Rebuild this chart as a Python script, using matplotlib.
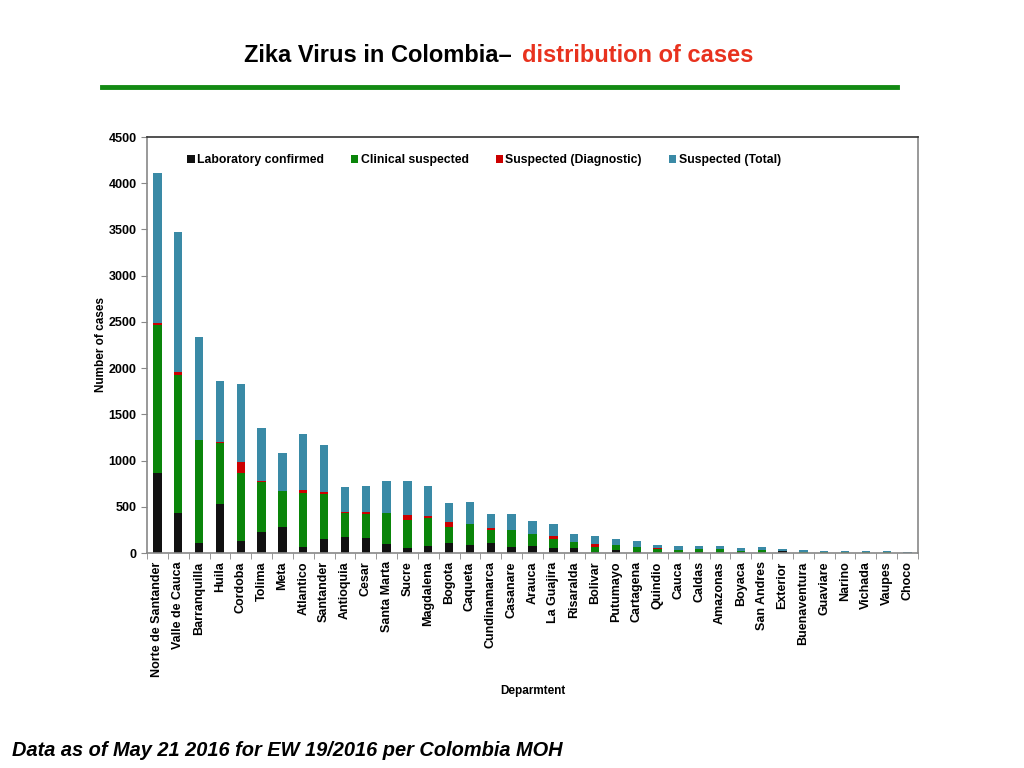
import numpy as np
import matplotlib.pyplot as plt
from matplotlib.ticker import FixedLocator

plt.rcParams['font.family'] = ['Liberation Sans', 'DejaVu Sans']

# values
departments = ['Norte de Santander', 'Valle de Cauca', 'Barranquilla', 'Huila', 'Cordoba',
               'Tolima', 'Meta', 'Atlantico', 'Santander', 'Antioquia', 'Cesar',
               'Santa Marta', 'Sucre', 'Magdalena', 'Bogota', 'Caqueta', 'Cundinamarca',
               'Casanare', 'Arauca', 'La Guajira', 'Risaralda', 'Bolivar', 'Putumayo',
               'Cartagena', 'Quindio', 'Cauca', 'Caldas', 'Amazonas', 'Boyaca',
               'San Andres', 'Exterior', 'Buenaventura', 'Guaviare', 'Narino', 'Vichada',
               'Vaupes', 'Choco']
lab_confirmed = [860, 437, 112, 534, 133, 231, 285, 68, 155, 177, 166, 101, 58, 79, 112,
                 90, 112, 68, 79, 58, 58, 15, 36, 10, 5, 4, 8, 2, 10, 0, 18, 2, 5, 4, 1, 1, 0]
clinical_suspected = [1605, 1493, 1105, 651, 737, 539, 390, 586, 485, 255, 257, 333, 303,
                      304, 173, 228, 141, 185, 124, 97, 64, 50, 54, 58, 40, 32, 32, 38, 15,
                      33, 4, 14, 6, 5, 8, 8, 4]
suspected_diag = [20, 29, 0, 18, 109, 14, 0, 29, 25, 10, 25, 0, 51, 18, 48, 0, 15, 0, 0,
                  29, 0, 36, 0, 0, 6, 0, 0, 0, 0, 0, 0, 0, 0, 0, 0, 0, 0]
suspected_total = [1625, 1517, 1117, 661, 850, 563, 406, 607, 506, 270, 275, 346, 368, 322,
                   206, 235, 155, 170, 141, 127, 84, 80, 58, 59, 39, 40, 39, 39, 29, 32, 21,
                   17, 11, 9, 9, 9, 4]

series = [('Laboratory confirmed', lab_confirmed, '#111111'),
          ('Clinical suspected', clinical_suspected, '#0a850a'),
          ('Suspected (Diagnostic)', suspected_diag, '#cc0000'),
          ('Suspected (Total)', suspected_total, '#3a8aa6')]

fig = plt.figure(figsize=(10.24, 7.68), dpi=100)
ax = fig.add_axes([147 / 1024, 1 - 553 / 768, (918 - 147) / 1024, (553 - 137) / 768])

x = np.arange(len(departments))
bottom = np.zeros(len(departments))
for name, vals, col in series:
    ax.bar(x, vals, width=0.4, bottom=bottom, color=col, label=name)
    bottom += np.array(vals)

ax.set_xlim(-0.5, len(departments) - 0.5)
ax.set_ylim(0, 4500)
ax.set_yticks(np.arange(0, 4501, 500))
ax.set_xticks(x)
ax.set_xticklabels(departments, rotation=90, fontsize=9, fontweight='bold')
ax.xaxis.set_minor_locator(FixedLocator(np.arange(-0.5, len(departments), 1)))
ax.tick_params(axis='x', which='major', length=0, pad=6)
ax.tick_params(axis='x', which='minor', length=4, color='#888888', direction='out')
ax.tick_params(axis='y', length=4, color='#888888', labelsize=9)
for lbl in ax.get_yticklabels():
    lbl.set_fontweight('bold')
for sp in ax.spines.values():
    sp.set_color('#888888')
    sp.set_linewidth(1.2)
ax.spines['top'].set_color('#333333')

ax.set_ylabel('Number of cases', fontsize=8.5, fontweight='bold', labelpad=1)
ax.set_xlabel('Deparmtent', fontsize=8.5, fontweight='bold', labelpad=6)

ax.legend(loc='upper left', bbox_to_anchor=(0.038, 0.985), ncol=4, frameon=False,
          handlelength=0.6, handleheight=0.6, handletextpad=0.2, columnspacing=2.2,
          prop={'size': 8.8, 'weight': 'bold'})

# title and decoration
fig.text(512 / 1024, 1 - 55 / 768, 'Zika Virus in Colombia\u2013', ha='right', va='center',
         fontsize=17, fontweight='bold', color='black')
fig.text(522 / 1024, 1 - 55 / 768, 'distribution of cases', ha='left', va='center',
         fontsize=17, fontweight='bold', color='#e8321e')
fig.add_artist(plt.Line2D([102 / 1024, 897 / 1024], [1 - 87 / 768, 1 - 87 / 768],
                          color='#138a13', linewidth=3.5))
fig.text(12 / 1024, 1 - 751 / 768, 'Data as of May 21 2016 for EW 19/2016 per Colombia MOH',
         ha='left', va='center', fontsize=14.4, fontweight='bold', style='italic')

fig.savefig('out.png', dpi=100)
